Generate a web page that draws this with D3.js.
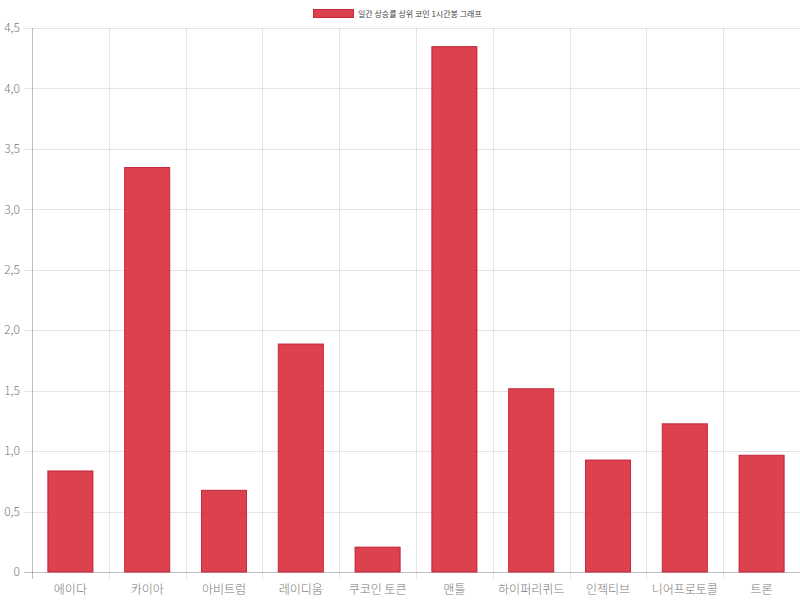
<!DOCTYPE html>
<html><head><meta charset="utf-8">
<script src="https://cdn.jsdelivr.net/npm/d3@7/dist/d3.min.js"></script>
<style>body{margin:0;background:#fff}svg{display:block}</style>
</head><body>
<svg id="c" width="800" height="600"></svg>
<script>
const categories = ["에이다","카이아","아비트럼","레이디움","쿠코인 토큰","맨틀","하이퍼리퀴드","인젝티브","니어프로토콜","트론"];
const values = [0.84,3.35,0.68,1.89,0.21,4.35,1.52,0.93,1.23,0.97];
const yTicks = [0,0.5,1,1.5,2,2.5,3,3.5,4,4.5];
const seriesName = "일간 상승률 상위 코인 1시간봉 그래프";

const svg = d3.select("#c");
const font = "'Noto Sans CJK KR', 'Noto Sans', sans-serif";
const L = 32, R = 800, T = 28, B = 572;
const x = d3.scaleBand().domain(categories).range([L, R]);
const y = d3.scaleLinear().domain([0, 4.5]).range([B, T]);
const grid = "rgba(0,0,0,0.1)";
const fmt = v => v === 0 ? "0" : d3.format(".1f")(v).replace(".", ",");

svg.append("g").selectAll("line").data(yTicks).join("line")
  .attr("x1", L - 8).attr("x2", R).attr("y1", d => Math.round(y(d)) + 0.5).attr("y2", d => Math.round(y(d)) + 0.5)
  .attr("stroke", d => d === 0 ? "rgba(0,0,0,0.25)" : grid).attr("stroke-width", 1);
const bounds = categories.map(c => x(c)).concat([R]);
svg.append("g").selectAll("line").data(bounds).join("line")
  .attr("x1", d => Math.round(d) + 0.5).attr("x2", d => Math.round(d) + 0.5)
  .attr("y1", T).attr("y2", B + 7)
  .attr("stroke", (d, i) => i === 0 ? "rgba(0,0,0,0.25)" : grid);

svg.append("g").selectAll("text").data(yTicks).join("text")
  .attr("x", L - 12).attr("y", d => y(d)).attr("dy", "0.35em")
  .attr("text-anchor", "end").attr("font-family", font).attr("font-weight", 300).attr("font-size", 12).attr("fill", "#777")
  .text(fmt);
svg.append("g").selectAll("text").data(categories).join("text")
  .attr("x", d => x(d) + x.bandwidth() / 2).attr("y", 590).attr("dy", "0.35em")
  .attr("text-anchor", "middle").attr("font-family", font).attr("font-weight", 300).attr("font-size", 12).attr("fill", "#777")
  .text(d => d);

const bw = x.bandwidth() * 0.6;
svg.append("g").selectAll("rect").data(values).join("rect")
  .attr("x", (d, i) => x(categories[i]) + (x.bandwidth() - bw) / 2 + 0.5)
  .attr("y", d => y(d) + 0.5)
  .attr("width", bw - 1)
  .attr("height", d => B - y(d) - 0.5)
  .attr("fill", "rgba(215,45,58,0.9)")
  .attr("stroke", "rgba(190,30,45,0.9)").attr("stroke-width", 1);

const lg = svg.append("g");
lg.append("rect").attr("x", 313.5).attr("y", 9.5).attr("width", 40).attr("height", 8)
  .attr("fill", "rgba(215,45,58,0.9)").attr("stroke", "rgba(190,30,45,0.9)");
lg.append("text").attr("x", 358).attr("y", 14).attr("dy", "0.35em")
  .attr("font-family", font).attr("font-size", 8).attr("fill", "#444").text(seriesName);
</script>
</body></html>
